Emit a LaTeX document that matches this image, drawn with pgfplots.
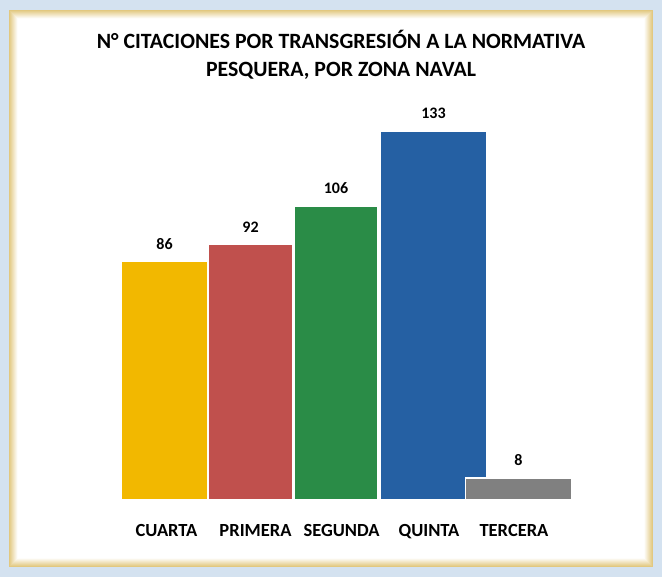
\documentclass[border=0pt]{standalone}
\usepackage{pgfplots}
\pgfplotsset{compat=1.18}
\usepackage{fontspec}
\setmainfont{Carlito}

\definecolor{cuarta}{RGB}{242,184,0}
\definecolor{primera}{RGB}{192,80,77}
\definecolor{segunda}{RGB}{42,140,71}
\definecolor{quinta}{RGB}{37,96,163}
\definecolor{tercera}{RGB}{128,128,128}
\definecolor{frameblue}{RGB}{212,226,240}
\definecolor{glow}{RGB}{226,200,128}

\begin{document}
\begin{tikzpicture}[x=1pt,y=1pt]
\useasboundingbox (0,0) rectangle (662,577);
% background: blue border, white panel with golden edge
\fill[frameblue] (0,0) rectangle (662,577);
\foreach \i in {0,...,8}{
  \pgfmathsetmacro{\p}{100-12*\i}
  \fill[glow!\p!white] (9+\i,10+\i) rectangle (653-\i,567-\i);
}
\fill[white] (18,19) rectangle (644,558);

\node[font=\bfseries\fontsize{21.8}{28.5}\selectfont, align=center]
  at (341,522) {N° CITACIONES POR TRANSGRESIÓN A LA NORMATIVA\\PESQUERA, POR ZONA NAVAL};

\begin{axis}[
  at={(122pt,77pt)}, anchor=south west,
  scale only axis, width=430pt, height=369pt,
  xmin=-0.5, xmax=4.5, ymin=0, ymax=133,
  axis lines=none, clip=false,
  ybar, bar width=86pt, bar shift=0pt,
  every axis plot/.append style={draw=white, line width=1.5pt},
  nodes near coords={\pgfmathprintnumber[assume math mode=true]{\pgfplotspointmeta}},
  every node near coord/.append style={font=\bfseries\fontsize{16}{16}\selectfont, text=black, yshift=8pt},
]
\addplot[fill=cuarta, bar width=86pt, bar shift=-0.5pt] coordinates {(0,86)};
\addplot[fill=primera, bar width=85pt, bar shift=-0.5pt] coordinates {(1,92)};
\addplot[fill=segunda, bar width=84pt, bar shift=-1pt] coordinates {(2,106)};
\addplot[fill=quinta, bar width=106pt, bar shift=10.5pt] coordinates {(3,133)};
\addplot[fill=tercera, bar width=106pt, bar shift=9.5pt] coordinates {(4,8)};
\foreach \lab/\dx [count=\k from 0] in {CUARTA/1.5,PRIMERA/4.5,SEGUNDA/4.5,QUINTA/6,TERCERA/5}{
  \edef\tmp{\noexpand\node[font=\noexpand\bfseries\noexpand\fontsize{18.5}{18.5}\noexpand\selectfont, anchor=base] at (axis cs:\k,0) [yshift=-37pt, xshift=\dx pt] {\lab};}
  \tmp
}
\end{axis}
\end{tikzpicture}
\end{document}
